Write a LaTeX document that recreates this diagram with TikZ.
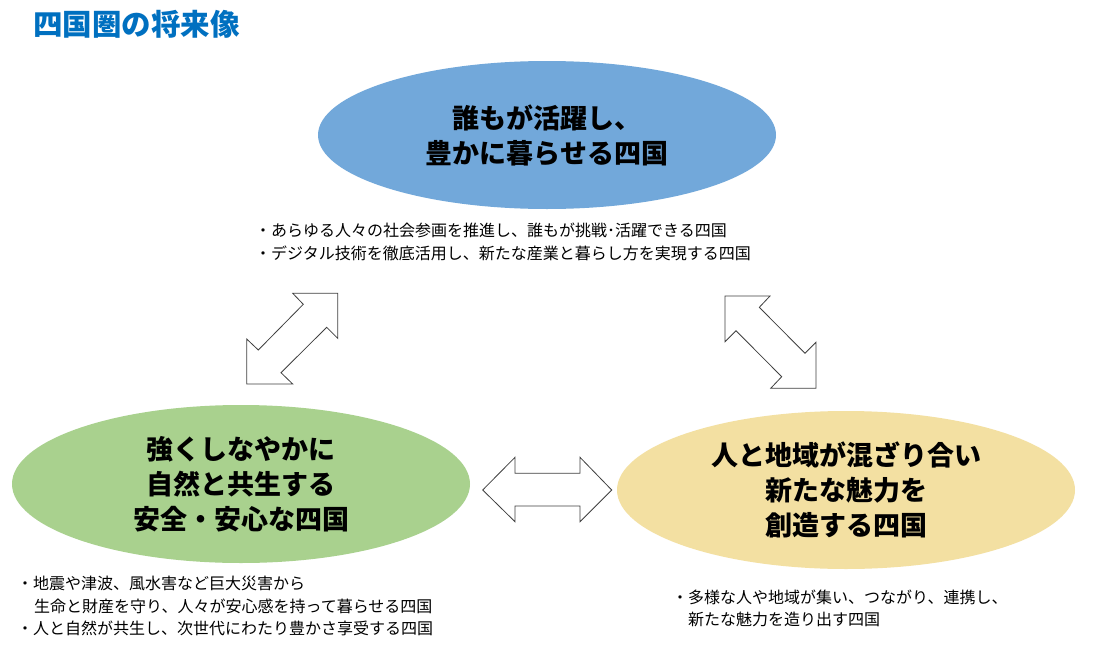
\documentclass[tikz,border=0pt]{standalone}
\usepackage{fontspec}
\setmainfont{Noto Sans CJK JP}
\usetikzlibrary{shapes.geometric}
\definecolor{titleblue}{RGB}{0,112,192}
\definecolor{ellblue}{RGB}{114,168,218}
\definecolor{ellgreen}{RGB}{169,209,142}
\definecolor{ellyellow}{RGB}{243,224,162}
\definecolor{arrowgray}{RGB}{64,64,64}
\tikzset{
  vision/.style={ellipse, inner sep=0pt, minimum width=458pt, minimum height=152pt,
    align=center, font=\bfseries\fontsize{27}{35}\selectfont},
  bullettext/.style={inner sep=0pt, align=left, font=\fontsize{16}{22.5}\selectfont},
  blockarrow/.style={draw=arrowgray, fill=white, line width=0.8pt, line join=miter},
}
\begin{document}
\begin{tikzpicture}[x=1pt,y=-1pt]
\useasboundingbox (0,0) rectangle (1093,667);
\fill[white] (0,0) rectangle (1093,667);

% title
\node[anchor=west, inner sep=0pt, text=titleblue, font=\bfseries\fontsize{29.5}{32}\selectfont]
  (title) at (33,24) {四国圏の将来像};

% ellipses
\node[vision, fill=ellblue, minimum height=148pt] (top) at (547,135)
  {誰もが活躍し、\\豊かに暮らせる四国};
\node[vision, fill=ellgreen, minimum height=158pt] (left) at (241,484)
  {強くしなやかに\\自然と共生する\\安全・安心な四国};
\node[vision, fill=ellyellow, minimum height=158pt] (right) at (846,490)
  {人と地域が混ざり合い\\新たな魅力を\\創造する四国};

% bullet texts
\node[bullettext, anchor=west] (toptext) at (255,242)
  {・あらゆる人々の社会参画を推進し、誰もが挑戦･活躍できる四国\\
   ・デジタル技術を徹底活用し、新たな産業と暮らし方を実現する四国};
\node[bullettext, anchor=west] (lefttext) at (17,606)
  {・地震や津波、風水害など巨大災害から\\
   \hspace*{17pt}生命と財産を守り、人々が安心感を持って暮らせる四国\\
   ・人と自然が共生し、次世代にわたり豊かさ享受する四国};
\node[bullettext, anchor=west] (righttext) at (672,608.5)
  {・多様な人や地域が集い、つながり、連携し、\\
   \hspace*{16pt}新たな魅力を造り出す四国};

% double block arrows
\draw[blockarrow] (292.7,293.3) -- (337.7,293.3) -- (337.7,338.3) -- (326.7,327.3)
  -- (281,372.7) -- (292.7,384) -- (246.7,384) -- (246.7,339) -- (258.3,350)
  -- (303.3,304.3) -- cycle;
\draw[blockarrow] (725,296) -- (770,296) -- (759.3,307.3) -- (805,353.3)
  -- (816,342.3) -- (816,388.3) -- (770.7,388.3) -- (781.7,376.7)
  -- (736,330.7) -- (725,341.7) -- cycle;
\draw[blockarrow] (482.7,490) -- (515,457.3) -- (515,473.3) -- (580,473.3)
  -- (580,457.3) -- (611.7,490) -- (580,521.7) -- (580,506) -- (515,506)
  -- (515,521.7) -- cycle;
\end{tikzpicture}
\end{document}
